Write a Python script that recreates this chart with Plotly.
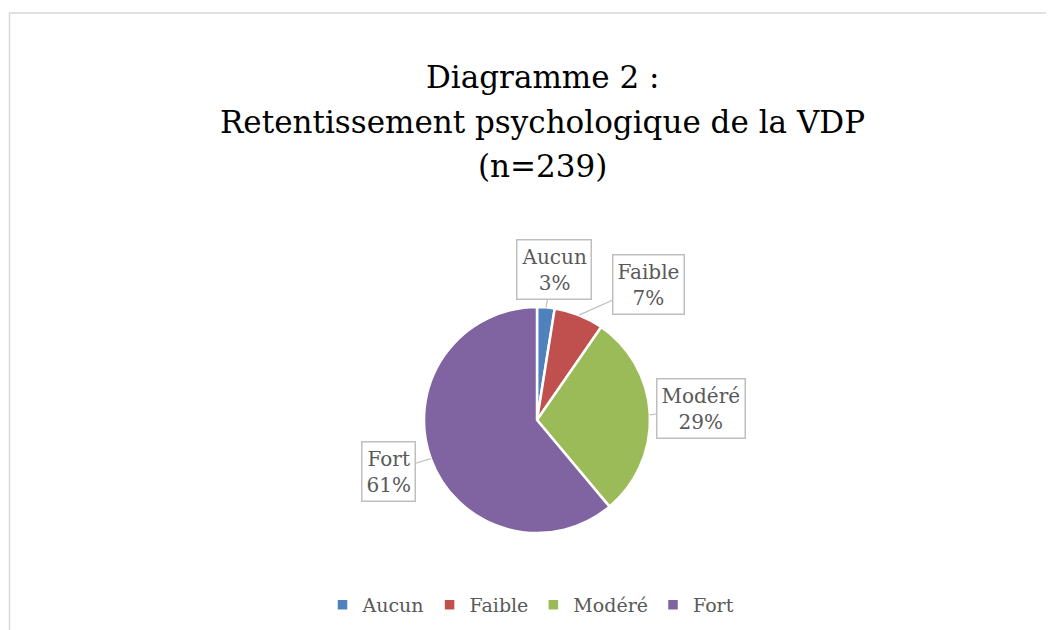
import math
import plotly.graph_objects as go

categories = ["Aucun", "Faible", "Modéré", "Fort"]
values = [6, 17, 70, 146]
colors = ["#4F81BD", "#C0504D", "#9BBB59", "#8064A2"]
pct_labels = ["3%", "7%", "29%", "61%"]
title_lines = ["Diagramme 2 :", "Retentissement psychologique de la VDP", "(n=239)"]

OFF = 8  # page body margin
W, H = 1054 - OFF, 630 - OFF
# positions in page pixels, converted to figure pixels
cx, cy, r = 537 - OFF, 420 - OFF, 113
label_offsets = [(8, -38), (69, -31), (51, -6), (-42, 13)]
title_y = [77 - OFF, 122 - OFF, 166 - OFF]
title_x = 542 - OFF

fig = go.Figure()
fig.add_trace(go.Pie(
    labels=categories,
    values=values,
    marker=dict(colors=colors, line=dict(color="white", width=2.5)),
    sort=False,
    direction="clockwise",
    rotation=0,
    textinfo="none",
    hoverinfo="label+percent",
    domain=dict(x=[(cx - r) / W, (cx + r) / W], y=[1 - (cy + r) / H, 1 - (cy - r) / H]),
    showlegend=True,
))

total = sum(values)
cum = 0
annotations = []
for i, (cat, v) in enumerate(zip(categories, values)):
    mid = (cum + v / 2) / total
    cum += v
    ang = 2 * math.pi * mid
    px = cx + r * math.sin(ang)
    py = cy - r * math.cos(ang)
    ax, ay = label_offsets[i]
    annotations.append(dict(
        x=px / W, y=1 - py / H, xref="paper", yref="paper",
        text=f"{cat}<br>{pct_labels[i]}",
        showarrow=True, arrowhead=0, arrowwidth=1.2, arrowcolor="#BFBFBF",
        ax=ax, ay=ay,
        font=dict(family="DejaVu Serif", size=20, color="#595959"),
        bordercolor="#BFBFBF", borderwidth=1.5, borderpad=4, bgcolor="white",
    ))

for ty, line in zip(title_y, title_lines):
    annotations.append(dict(
        x=title_x / W, y=1 - ty / H, xref="paper", yref="paper",
        xanchor="center", yanchor="middle", showarrow=False,
        text=line, font=dict(family="DejaVu Serif", size=31, color="#000000"),
    ))

fig.update_layout(
    width=W, height=H,
    margin=dict(l=0, r=0, t=0, b=0),
    paper_bgcolor="white",
    plot_bgcolor="white",
    legend=dict(
        orientation="h", x=(531 - OFF) / W, xanchor="center", y=1 - (605 - OFF) / H, yanchor="middle",
        font=dict(family="DejaVu Serif", size=19, color="#595959"),
        itemwidth=30, traceorder="normal",
    ),
    annotations=annotations,
    shapes=[dict(type="rect", xref="paper", yref="paper",
                 x0=(9.5 - OFF) / W, x1=1.05, y0=-0.05, y1=1 - (13 - OFF) / H,
                 line=dict(color="#D9D9D9", width=1.5), layer="below")],
)

fig.write_html("out.html")
